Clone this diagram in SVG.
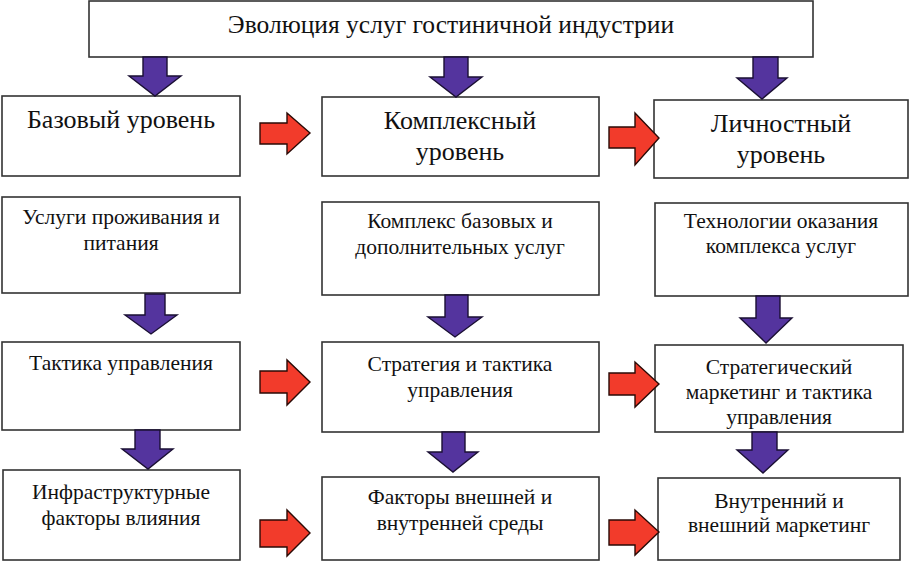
<svg xmlns="http://www.w3.org/2000/svg" width="909" height="561" viewBox="0 0 909 561">
<rect width="909" height="561" fill="#fff"/>
<g id="nodes" font-family="Liberation Serif" font-size="21.5" fill="#111" text-anchor="middle">
<g id="title"><rect fill="#fff" stroke="#333" stroke-width="1.6" x="89" y="1" width="724" height="56"/><text font-family="Liberation Serif" font-size="25.5" x="451" y="33">Эволюция услуг гостиничной индустрии</text></g>
<g id="basic" font-size="26"><rect fill="#fff" stroke="#333" stroke-width="1.6" x="2" y="96" width="238" height="80"/><text font-family="Liberation Serif" x="121" y="128">Базовый уровень</text></g>
<g id="complex" font-size="26"><rect fill="#fff" stroke="#333" stroke-width="1.6" x="322" y="97" width="277" height="79"/><text font-family="Liberation Serif" x="460" y="129">Комплексный</text><text font-family="Liberation Serif" x="460" y="160">уровень</text></g>
<g id="personal" font-size="26"><rect fill="#fff" stroke="#333" stroke-width="1.6" x="654" y="100" width="254" height="78"/><text font-family="Liberation Serif" x="781" y="132">Личностный</text><text font-family="Liberation Serif" x="781" y="163">уровень</text></g>
<g id="svc1"><rect fill="#fff" stroke="#333" stroke-width="1.6" x="2" y="197" width="238" height="96"/><text font-family="Liberation Serif" x="121" y="224">Услуги проживания и</text><text font-family="Liberation Serif" x="121" y="250">питания</text></g>
<g id="svc2"><rect fill="#fff" stroke="#333" stroke-width="1.6" x="322" y="202" width="277" height="93"/><text font-family="Liberation Serif" x="460" y="228">Комплекс базовых и</text><text font-family="Liberation Serif" x="460" y="254">дополнительных услуг</text></g>
<g id="svc3"><rect fill="#fff" stroke="#333" stroke-width="1.6" x="655" y="203" width="253" height="93"/><text font-family="Liberation Serif" x="781" y="228">Технологии оказания</text><text font-family="Liberation Serif" x="781" y="253">комплекса услуг</text></g>
<g id="mgmt1"><rect fill="#fff" stroke="#333" stroke-width="1.6" x="2" y="342" width="238" height="88"/><text font-family="Liberation Serif" x="121" y="370">Тактика управления</text></g>
<g id="mgmt2"><rect fill="#fff" stroke="#333" stroke-width="1.6" x="322" y="342" width="277" height="90"/><text font-family="Liberation Serif" x="460" y="371">Стратегия и тактика</text><text font-family="Liberation Serif" x="460" y="397">управления</text></g>
<g id="mgmt3"><rect fill="#fff" stroke="#333" stroke-width="1.6" x="655" y="345" width="248" height="87"/><text font-family="Liberation Serif" x="779" y="374">Стратегический</text><text font-family="Liberation Serif" x="779" y="399">маркетинг и тактика</text><text font-family="Liberation Serif" x="779" y="424">управления</text></g>
<g id="fac1"><rect fill="#fff" stroke="#333" stroke-width="1.6" x="3" y="470" width="237" height="90"/><text font-family="Liberation Serif" x="121" y="499">Инфраструктурные</text><text font-family="Liberation Serif" x="121" y="525">факторы влияния</text></g>
<g id="fac2"><rect fill="#fff" stroke="#333" stroke-width="1.6" x="322" y="477" width="277" height="83"/><text font-family="Liberation Serif" x="460" y="504">Факторы внешней и</text><text font-family="Liberation Serif" x="460" y="530">внутренней среды</text></g>
<g id="fac3"><rect fill="#fff" stroke="#333" stroke-width="1.6" x="658" y="478" width="242" height="82"/><text font-family="Liberation Serif" x="779" y="508">Внутренний и</text><text font-family="Liberation Serif" x="779" y="532">внешний маркетинг</text></g>
</g>
<g id="connectors" stroke-width="1.4" stroke-linejoin="miter">
<g fill="#54349e" stroke="#1a0f33">
<polygon points="143,57 167,57 167,76 181,76 155,96 129,76 143,76"/>
<polygon points="444,57 468,57 468,77 482,77 456,97 430,77 444,77"/>
<polygon points="753,57 778,57 778,78 787,78 762,99 737,78 753,78"/>
<polygon points="145,294 165,294 165,315 177,315 151,334 125,315 145,315"/>
<polygon points="445,295 468,295 468,317 482,317 455,337 428,317 445,317"/>
<polygon points="756,296 780,296 780,318 792,318 766,343 740,318 756,318"/>
<polygon points="135,430 160,430 160,449 173,449 148,469 122,449 135,449"/>
<polygon points="442,432 465,432 465,452 478,452 453,472 428,452 442,452"/>
<polygon points="752,432 777,432 777,450 788,450 763,473 737,450 752,450"/>
</g>
<g fill="#f23b2b" stroke="#2a0a06">
<polygon points="260,123 287,123 287,113 310,133 287,154 287,144 260,144"/>
<polygon points="609,127 635,127 635,113 659,138 635,165 635,148 609,148"/>
<polygon points="260,371 287,371 287,360 310,382 287,405 287,393 260,393"/>
<polygon points="609,373 635,373 635,362 659,384 635,407 635,395 609,395"/>
<polygon points="260,520 287,520 287,510 310,533 287,556 287,547 260,547"/>
<polygon points="609,520 635,520 635,510 659,532 635,555 635,545 609,545"/>
</g>
</g>
</svg>
